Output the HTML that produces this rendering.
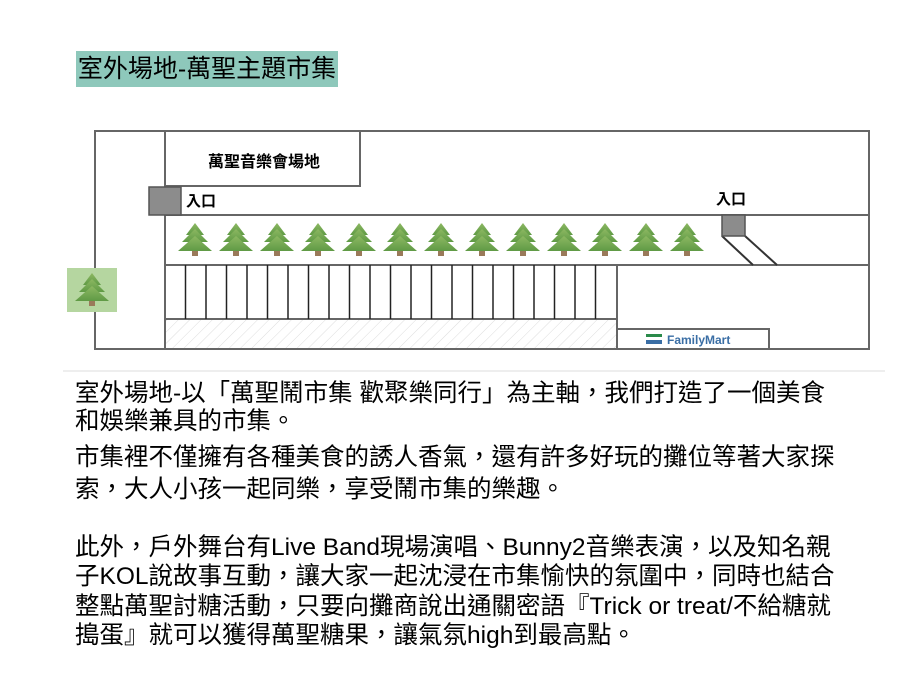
<!DOCTYPE html>
<html><head><meta charset="utf-8"><style>
body{margin:0;width:920px;height:696px;background:#fff;position:relative;overflow:hidden;font-family:"Liberation Sans","Noto Sans CJK TC",sans-serif}
.t{position:absolute;left:75px;font-size:24.5px;white-space:nowrap;color:#000;line-height:30px}
#title{position:absolute;left:76px;top:51px;width:262px;height:36px;background:#8ec8bb;font-size:25px;line-height:36px;text-align:center;white-space:nowrap}
</style></head><body>
<div id="title">室外場地-萬聖主題市集</div>
<svg width="920" height="696" style="position:absolute;left:0;top:0">
<defs>
<pattern id="h" width="8" height="8" patternUnits="userSpaceOnUse" patternTransform="rotate(45)"><line x1="0" y1="0" x2="0" y2="8" stroke="#ddd" stroke-width="1"/></pattern>
<linearGradient id="g" x1="0" y1="0" x2="0" y2="1"><stop offset="0" stop-color="#8db862"/><stop offset="1" stop-color="#5f9a45"/></linearGradient>
<g id="tree"><rect x="-3" y="28" width="6" height="5" fill="#9a7a5a"/>
<polygon points="0,0 -9,12 9,12" fill="url(#g)"/><polygon points="0,6 -13,19 13,19" fill="url(#g)"/><polygon points="0,13 -17,28 17,28" fill="url(#g)"/></g>
</defs>
<g stroke="#666" stroke-width="2" fill="none">
<rect x="95" y="131" width="774" height="218"/>
<line x1="165" y1="131" x2="165" y2="349"/>
<rect x="165" y="131" width="195" height="55" fill="#fff"/>
<line x1="165" y1="215" x2="869" y2="215"/>
<line x1="165" y1="265" x2="869" y2="265"/>
<line x1="165" y1="319" x2="617" y2="319"/>
<line x1="617" y1="265" x2="617" y2="349"/>
<rect x="617" y="329" width="152" height="20"/>
<line x1="722" y1="236" x2="753" y2="265" stroke="#333"/>
<line x1="745" y1="236" x2="777" y2="265" stroke="#333"/>
</g>
<rect x="166" y="320" width="450" height="28" fill="url(#h)"/>
<g stroke="#222" stroke-width="1.5">
<line x1="185.5" y1="265" x2="185.5" y2="319"/><line x1="206" y1="265" x2="206" y2="319"/><line x1="226.5" y1="265" x2="226.5" y2="319"/><line x1="247" y1="265" x2="247" y2="319"/><line x1="267.5" y1="265" x2="267.5" y2="319"/><line x1="288" y1="265" x2="288" y2="319"/><line x1="308.5" y1="265" x2="308.5" y2="319"/><line x1="329" y1="265" x2="329" y2="319"/><line x1="349.5" y1="265" x2="349.5" y2="319"/><line x1="370" y1="265" x2="370" y2="319"/><line x1="390.5" y1="265" x2="390.5" y2="319"/><line x1="411" y1="265" x2="411" y2="319"/><line x1="431.5" y1="265" x2="431.5" y2="319"/><line x1="452" y1="265" x2="452" y2="319"/><line x1="472.5" y1="265" x2="472.5" y2="319"/><line x1="493" y1="265" x2="493" y2="319"/><line x1="513.5" y1="265" x2="513.5" y2="319"/><line x1="534" y1="265" x2="534" y2="319"/><line x1="554.5" y1="265" x2="554.5" y2="319"/><line x1="575" y1="265" x2="575" y2="319"/><line x1="595.5" y1="265" x2="595.5" y2="319"/>
</g>
<rect x="149" y="187" width="32" height="28" fill="#8c8c8c" stroke="#555" stroke-width="1.5"/>
<rect x="722" y="215" width="23" height="21" fill="#8c8c8c" stroke="#555" stroke-width="1.5"/>
<rect x="67" y="268" width="50" height="44" fill="#b5d6a0"/>
<use href="#tree" x="92" y="273"/>
<use href="#tree" x="195" y="223"/><use href="#tree" x="236" y="223"/><use href="#tree" x="277" y="223"/><use href="#tree" x="318" y="223"/><use href="#tree" x="359" y="223"/><use href="#tree" x="400" y="223"/><use href="#tree" x="441" y="223"/><use href="#tree" x="482" y="223"/><use href="#tree" x="523" y="223"/><use href="#tree" x="564" y="223"/><use href="#tree" x="605" y="223"/><use href="#tree" x="646" y="223"/><use href="#tree" x="687" y="223"/>
<text x="264" y="167" font-size="16" font-weight="bold" text-anchor="middle" font-family="Liberation Sans,Noto Sans CJK TC,sans-serif">萬聖音樂會場地</text>
<text x="186" y="206" font-size="15" font-weight="bold" font-family="Liberation Sans,Noto Sans CJK TC,sans-serif">入口</text>
<text x="716" y="204" font-size="15" font-weight="bold" font-family="Liberation Sans,Noto Sans CJK TC,sans-serif">入口</text>
<rect x="646" y="334" width="16" height="3" fill="#2a8a4a"/><rect x="646" y="338" width="16" height="2" fill="#fff"/><rect x="646" y="340" width="16" height="4" fill="#3a6ea5"/>
<text x="667" y="344" font-size="12" font-weight="bold" fill="#3a6ea5" font-family="Liberation Sans,sans-serif">FamilyMart</text>
<line x1="63" y1="371" x2="885" y2="371" stroke="#eee" stroke-width="2"/>
</svg>
<div class="t" style="top:379px">室外場地-以「萬聖鬧市集 歡聚樂同行」為主軸，我們打造了一個美食</div>
<div class="t" style="top:407px">和娛樂兼具的市集。</div>
<div class="t" style="top:443px">市集裡不僅擁有各種美食的誘人香氣，還有許多好玩的攤位等著大家探</div>
<div class="t" style="top:475px">索，大人小孩一起同樂，享受鬧市集的樂趣。</div>
<div class="t" style="top:533px">此外，戶外舞台有Live Band現場演唱、Bunny2音樂表演，以及知名親</div>
<div class="t" style="top:562px">子KOL說故事互動，讓大家一起沈浸在市集愉快的氛圍中，同時也結合</div>
<div class="t" style="top:592px">整點萬聖討糖活動，只要向攤商說出通關密語『Trick or treat/不給糖就</div>
<div class="t" style="top:621px">搗蛋』就可以獲得萬聖糖果，讓氣氛high到最高點。</div>
</body></html>
